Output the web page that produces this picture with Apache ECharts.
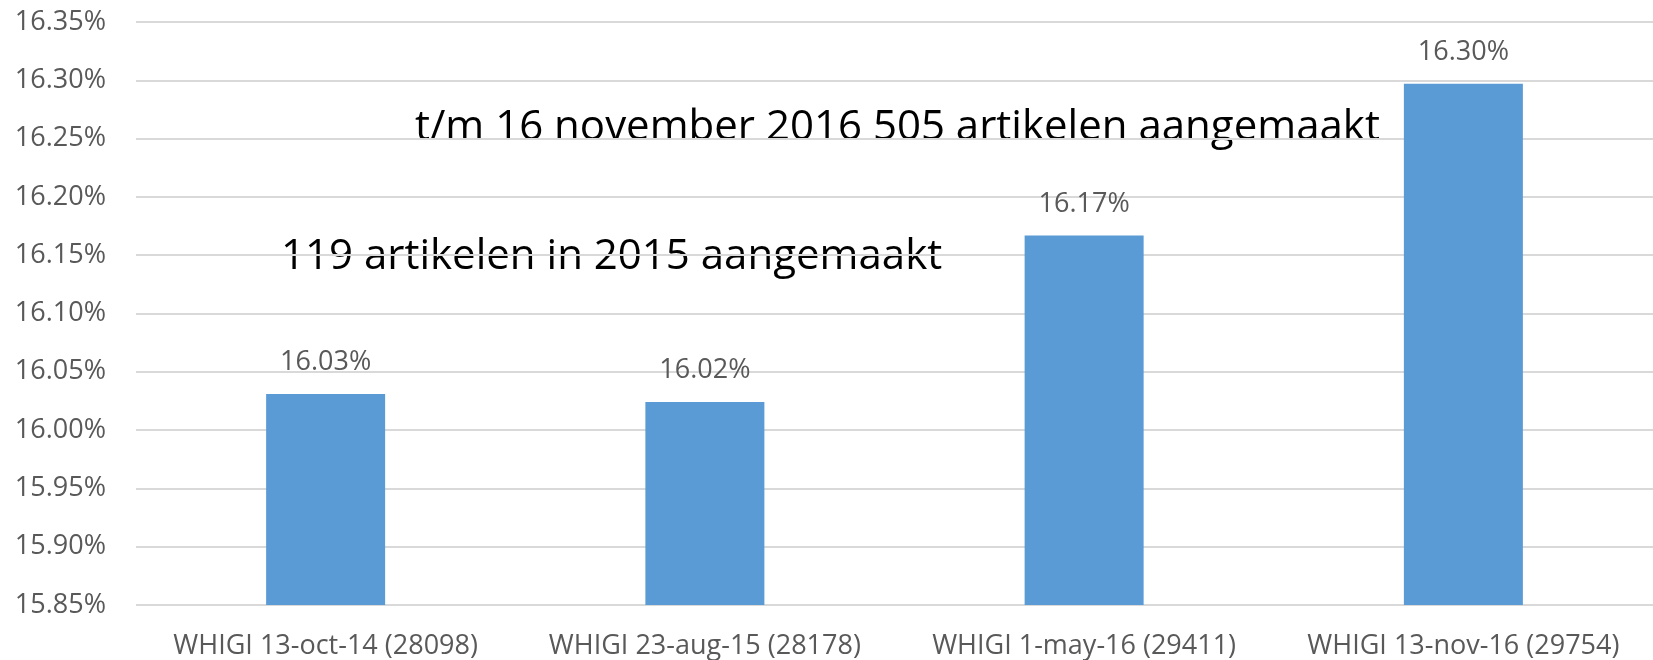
<!DOCTYPE html>
<html>
<head>
<meta charset="utf-8">
<script src="https://cdn.jsdelivr.net/npm/echarts@6/dist/echarts.min.js"></script>
<style>
  html, body { margin: 0; padding: 0; background: #fff; }
  #chart { width: 1653px; height: 660px; }
</style>
</head>
<body>
<div id="chart"></div>
<script>
// categorieën en waarden (percentages)
const categories = ['WHIGI 13-oct-14 (28098)', 'WHIGI 23-aug-15 (28178)', 'WHIGI 1-may-16 (29411)', 'WHIGI 13-nov-16 (29754)'];
const values = [16.031, 16.024, 16.167, 16.297];
const notes = ['t/m 16 november 2016 505 artikelen aangemaakt', '119 artikelen in 2015 aangemaakt'];

const textFont = '"Open Sans", sans-serif';
const grey = '#595959';

const chart = echarts.init(document.getElementById('chart'));
chart.setOption({
    animation: false,
    grid: { left: 136, top: 22, width: 1524, height: 584, containLabel: false },
    xAxis: {
        type: 'category',
        data: categories,
        axisLine: { show: false },
        axisTick: { show: false },
        axisLabel: { color: grey, fontFamily: textFont, fontSize: 27, margin: 28, interval: 0 }
    },
    yAxis: {
        type: 'value',
        min: 15.85, max: 16.35, interval: 0.05,
        axisLine: { show: false },
        axisTick: { show: false },
        splitLine: { lineStyle: { color: '#D9D9D9', width: 2 } },
        axisLabel: {
            color: grey, fontFamily: textFont, fontSize: 27, margin: 30,
            formatter: v => v.toFixed(2) + '%'
        }
    },
    series: [{
        type: 'bar',
        data: values,
        barWidth: 119,
        itemStyle: { color: '#5B9BD5' },
        label: {
            show: true, position: 'top', distance: 18,
            color: grey, fontFamily: textFont, fontSize: 27,
            formatter: p => p.value.toFixed(2) + '%'
        }
    }],
    graphic: [
        { type: 'text', left: 415, top: 107, style: { text: notes[0], fill: '#000', font: '42px "Open Sans", sans-serif' } },
        { type: 'text', left: 281, top: 236, style: { text: notes[1], fill: '#000', font: '42px "Open Sans", sans-serif' } }
    ]
});
</script>
</body>
</html>
